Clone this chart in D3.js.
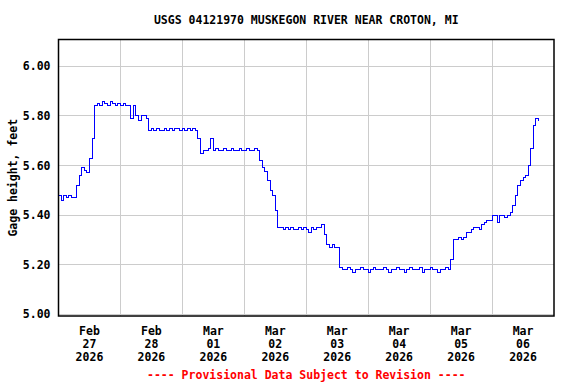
<!DOCTYPE html>
<html>
<head>
<meta charset="utf-8">
<script src="https://cdn.jsdelivr.net/npm/d3@7"></script>
<style>
  body { margin: 0; background: #fff; }
  text { font-family: "DejaVu Sans Mono", monospace; font-weight: bold; font-size: 11.5px; }
</style>
</head>
<body>
<div id="chart"></div>
<script>
// Gage height, hourly readings starting Feb 27 2026 00:00
var startTime = new Date(2026, 1, 27, 0, 0);
var gageHeight = [
    // Feb 27
    5.48, 5.46, 5.48, 5.47, 5.48, 5.47, 5.47, 5.52, 5.56, 5.59, 5.58, 5.57,
    5.63, 5.71, 5.84, 5.85, 5.84, 5.86, 5.85, 5.84, 5.86, 5.85, 5.84, 5.85,
    // Feb 28
    5.84, 5.85, 5.84, 5.84, 5.79, 5.84, 5.80, 5.78, 5.80, 5.80, 5.79, 5.74,
    5.75, 5.74, 5.75, 5.74, 5.74, 5.75, 5.74, 5.75, 5.74, 5.75, 5.75, 5.74,
    // Mar 01
    5.75, 5.74, 5.75, 5.74, 5.75, 5.74, 5.71, 5.65, 5.66, 5.66, 5.67, 5.71,
    5.66, 5.67, 5.66, 5.66, 5.67, 5.66, 5.66, 5.67, 5.66, 5.66, 5.67, 5.66,
    // Mar 02
    5.66, 5.67, 5.66, 5.66, 5.67, 5.66, 5.62, 5.59, 5.575, 5.54, 5.50, 5.48,
    5.42, 5.35, 5.35, 5.34, 5.35, 5.34, 5.35, 5.34, 5.34, 5.35, 5.34, 5.35,
    // Mar 03
    5.34, 5.33, 5.35, 5.34, 5.35, 5.35, 5.36, 5.32, 5.28, 5.27, 5.28, 5.27,
    5.27, 5.19, 5.18, 5.18, 5.19, 5.18, 5.17, 5.18, 5.18, 5.19, 5.18, 5.18,
    // Mar 04
    5.17, 5.18, 5.19, 5.18, 5.18, 5.18, 5.19, 5.18, 5.17, 5.18, 5.18, 5.19,
    5.18, 5.18, 5.17, 5.18, 5.19, 5.18, 5.18, 5.18, 5.19, 5.17, 5.18, 5.18,
    // Mar 05
    5.19, 5.18, 5.18, 5.17, 5.18, 5.18, 5.19, 5.18, 5.22, 5.30, 5.30, 5.31,
    5.30, 5.31, 5.33, 5.33, 5.34, 5.35, 5.35, 5.34, 5.36, 5.37, 5.38, 5.38,
    // Mar 06
    5.40, 5.40, 5.37, 5.40, 5.40, 5.39, 5.40, 5.41, 5.44, 5.48, 5.52, 5.54,
    5.55, 5.56, 5.60, 5.67, 5.76, 5.79, 5.78
];
var dayLabels = [
    ["Feb", "27", "2026"], ["Feb", "28", "2026"], ["Mar", "01", "2026"], ["Mar", "02", "2026"],
    ["Mar", "03", "2026"], ["Mar", "04", "2026"], ["Mar", "05", "2026"], ["Mar", "06", "2026"]
];
var yTicks = [5.00, 5.20, 5.40, 5.60, 5.80, 6.00];

var svgWidth = 576;
var svgHeight = 384;
var margin = { top: 39.5, right: 22, bottom: 68, left: 58.5 };
var width = svgWidth - margin.left - margin.right;
var height = svgHeight - margin.top - margin.bottom;

var svg = d3.select("#chart")
    .append("svg")
    .attr("width", svgWidth)
    .attr("height", svgHeight);

var chartGroup = svg.append("g")
    .attr("transform", `translate(${margin.left}, ${margin.top})`);

var data = gageHeight.map(function(v, i) {
    return { time: d3.timeHour.offset(startTime, i), value: v };
});

var xTimeScale = d3.scaleTime()
    .domain([startTime, d3.timeDay.offset(startTime, 8)])
    .range([0, width]);

var yLinearScale = d3.scaleLinear()
    .domain([4.993, 6.108])
    .range([height, 0]);

// grid
chartGroup.append("g")
    .selectAll("line")
    .data(yTicks)
    .enter()
    .append("line")
    .attr("x1", 0)
    .attr("x2", width)
    .attr("y1", d => Math.round(yLinearScale(d)))
    .attr("y2", d => Math.round(yLinearScale(d)))
    .attr("stroke", "#cccccc");

var days = d3.timeDay.range(d3.timeDay.offset(startTime, 1), d3.timeDay.offset(startTime, 8));
chartGroup.append("g")
    .selectAll("line")
    .data(days)
    .enter()
    .append("line")
    .attr("x1", d => Math.round(xTimeScale(d)))
    .attr("x2", d => Math.round(xTimeScale(d)))
    .attr("y1", 0)
    .attr("y2", height)
    .attr("stroke", "#cccccc");

// data line
var line = d3.line()
    .x(d => xTimeScale(d.time))
    .y(d => yLinearScale(d.value))
    .curve(d3.curveStepAfter);

chartGroup.append("path")
    .datum(data)
    .attr("d", line)
    .attr("fill", "none")
    .attr("stroke", "#0000ff")
    .attr("stroke-width", 1)
    .attr("shape-rendering", "crispEdges");

// frame
chartGroup.append("rect")
    .attr("x", 0)
    .attr("y", 0)
    .attr("width", width)
    .attr("height", height)
    .attr("fill", "none")
    .attr("stroke", "#000")
    .attr("stroke-width", 1.5);

// y tick labels
var leftAxis = d3.axisLeft(yLinearScale)
    .tickValues(yTicks)
    .tickFormat(d3.format(".2f"))
    .tickSize(0)
    .tickPadding(8);

var yAxisGroup = chartGroup.append("g").call(leftAxis);
yAxisGroup.select(".domain").remove();
yAxisGroup.attr("font-family", null).attr("font-size", null);
yAxisGroup.selectAll("text").attr("fill", "#000");

// x labels at midday
var xLabels = chartGroup.append("g")
    .selectAll("text")
    .data(dayLabels)
    .enter()
    .append("text")
    .attr("x", (d, i) => xTimeScale(d3.timeHour.offset(d3.timeDay.offset(startTime, i), 12)))
    .attr("y", height + 18.5)
    .style("text-anchor", "middle");

xLabels.selectAll("tspan")
    .data(d => d)
    .enter()
    .append("tspan")
    .attr("x", function() { return this.parentNode.getAttribute("x"); })
    .attr("dy", (d, i) => i === 0 ? 0 : 13)
    .text(d => d);

// titles
svg.append("text")
    .attr("x", margin.left + width / 2)
    .attr("y", 24)
    .style("text-anchor", "middle")
    .text("USGS 04121970 MUSKEGON RIVER NEAR CROTON, MI");

svg.append("text")
    .attr("transform", `translate(17, ${margin.top + height / 2}) rotate(-90)`)
    .style("text-anchor", "middle")
    .text("Gage height, feet");

svg.append("text")
    .attr("x", margin.left + width / 2)
    .attr("y", 379)
    .style("text-anchor", "middle")
    .style("fill", "#ff0000")
    .text("---- Provisional Data Subject to Revision ----");
</script>
</body>
</html>
